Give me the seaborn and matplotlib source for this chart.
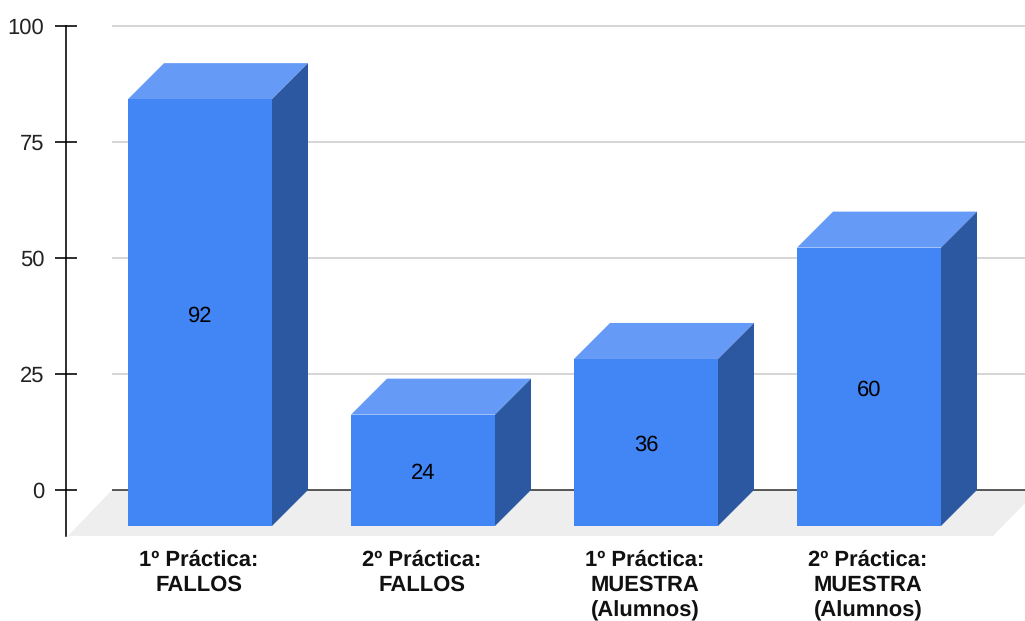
import matplotlib
matplotlib.use("Agg")
import matplotlib.pyplot as plt
from matplotlib.patches import Polygon
import pandas as pd
import seaborn as sns

# Exercise results per practice session
categories = [
    "1º Práctica:\nFALLOS",
    "2º Práctica:\nFALLOS",
    "1º Práctica:\nMUESTRA\n(Alumnos)",
    "2º Práctica:\nMUESTRA\n(Alumnos)",
]
values = [92, 24, 36, 60]
y_ticks = [0, 25, 50, 75, 100]

FRONT = "#4285f4"
TOP = "#659bf6"
SIDE = "#2c57a1"
FLOOR = "#eeeeee"
GRID = "#cccccc"
AXIS = "#333333"
FONT_SIZE = 15.8

W, H = 1025, 621
sns.set_theme(style="white")
plt.rcParams["font.family"] = ["Liberation Sans", "DejaVu Sans"]
plt.rcParams["text.hinting"] = "none"
plt.rcParams["text.hinting_factor"] = 1

fig = plt.figure(figsize=(W / 100, H / 100), dpi=100)
ax = fig.add_axes([66 / W, 1 - 536 / H, (W - 66) / W, (536 - 26) / H])

# Pixel scale of the plot area, used to express the oblique depth in data units
px_per_unit_y = (490 - 26) / 100
px_per_cat = 223
depth_x = 36 / px_per_cat
depth_y = 36 / px_per_unit_y
bar_width = 144 / px_per_cat

df = pd.DataFrame({"categoria": categories, "valor": values})
sns.barplot(data=df, x="categoria", y="valor", order=categories, color=FRONT,
            saturation=1, width=bar_width, bottom=-depth_y, linewidth=0,
            errorbar=None, ax=ax, zorder=5)

x_min = (66 - 200) / px_per_cat
x_max = (W - 200) / px_per_cat
y_min = -(536 - 490) / px_per_unit_y
ax.set_xlim(x_min, x_max)
ax.set_ylim(y_min, 100)

# Floor of the pseudo-3D scene, running off the right edge
x_back_left = (112 - 200) / px_per_cat
x_front_left = (68 - 200) / px_per_cat
x_front_right = (993 - 200) / px_per_cat
ax.add_patch(Polygon([(x_front_left, y_min), (x_back_left, 0),
                      (x_front_right + 45 / px_per_cat, 0), (x_front_right, y_min)],
                     closed=True, facecolor=FLOOR, edgecolor="none", zorder=1))

# Gridlines sit on the back wall; the zero line is darker
for t in y_ticks:
    ax.hlines(t, x_back_left, x_max, color=AXIS if t == 0 else GRID,
              linewidth=1.15, zorder=2, clip_on=False)

# Top and side faces, then the value label in the middle of each front face
for i, v in enumerate(values):
    left = i - bar_width / 2
    right = i + bar_width / 2
    base = -depth_y
    front_top = v - depth_y
    ax.add_patch(Polygon([(left, front_top), (right, front_top),
                          (right + depth_x, v), (left + depth_x, v)],
                         closed=True, facecolor=TOP, edgecolor="none", zorder=4))
    ax.add_patch(Polygon([(right, base), (right + depth_x, 0),
                          (right + depth_x, v), (right, front_top)],
                         closed=True, facecolor=SIDE, edgecolor="none", zorder=4))
    ax.annotate(str(v), xy=(i, (base + front_top) / 2), xytext=(0, -2.2),
                textcoords="offset points", ha="center", va="center",
                fontsize=FONT_SIZE, color="black", zorder=6)

sns.despine(ax=ax, top=True, right=True, bottom=True)
ax.spines["left"].set_color("black")
ax.spines["left"].set_linewidth(1.15)
ax.set_yticks(y_ticks)
ax.tick_params(axis="y", direction="inout", length=16, width=1.15, color="black",
               left=True, pad=7.5, labelsize=FONT_SIZE, labelcolor="#222222")
for tick in ax.yaxis.get_major_ticks():
    tick.tick1line.set_clip_on(False)

# Category labels sit slightly left of the bar centres
ax.set_xticks([i - 1 / px_per_cat for i in range(len(categories))], categories)
ax.tick_params(axis="x", length=0, pad=10, labelsize=FONT_SIZE, labelcolor="#111111")
for label in ax.get_xticklabels():
    label.set_fontweight("bold")
    label.set_linespacing(1.3)
ax.set_xlabel("")
ax.set_ylabel("")
ax.grid(False)

fig.savefig("out.png", dpi=100)
